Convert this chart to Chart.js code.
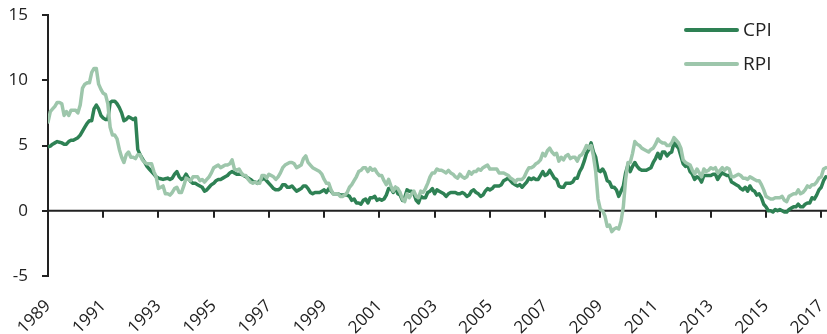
<!DOCTYPE html>
<html>
<head>
<meta charset="utf-8">
<script src="https://cdn.jsdelivr.net/npm/chart.js@4.4.0/dist/chart.umd.min.js"></script>
<style>
  html, body { margin: 0; padding: 0; background: #fff; }
</style>
</head>
<body>
<canvas id="inflChart" width="827" height="334"></canvas>
<script>
// monthly series, Jan 1989 onwards (annual % change)
const startYear = 1989;
const tickYears = [1989, 1991, 1993, 1995, 1997, 1999, 2001, 2003, 2005, 2007, 2009, 2011, 2013, 2015, 2017];
const yTicks = [-5, 0, 5, 10, 15];
const seriesNames = ['CPI', 'RPI'];

const cpi = [
  4.9, 4.95, 5.1, 5.2, 5.3, 5.25, 5.2, 5.1, 5.1, 5.3, 5.4, 5.4,      // 1989
  5.5, 5.6, 5.8, 6.1, 6.4, 6.7, 6.9, 6.9, 7.8, 8.1, 7.8, 7.3,        // 1990
  7.1, 7.0, 7.0, 8.3, 8.4, 8.4, 8.2, 7.9, 7.5, 6.9, 7.0, 7.2,        // 1991
  7.1, 7.0, 7.1, 4.7, 4.3, 4.0, 3.7, 3.4, 3.2, 3.0, 2.8, 2.6,        // 1992
  2.5, 2.45, 2.4, 2.45, 2.5, 2.4, 2.5, 2.8, 3.0, 2.6, 2.4, 2.5,      // 1993
  2.8, 2.5, 2.25, 2.1, 2.1, 2.0, 1.9, 1.8, 1.5, 1.6, 1.8, 2.0,       // 1994
  2.1, 2.3, 2.4, 2.4, 2.5, 2.6, 2.7, 2.9, 3.0, 2.9, 2.8, 2.8,        // 1995
  2.8, 2.7, 2.6, 2.5, 2.4, 2.25, 2.2, 2.1, 2.3, 2.4, 2.5, 2.3,       // 1996
  2.1, 1.9, 1.7, 1.6, 1.6, 1.7, 2.0, 2.0, 1.8, 1.8, 1.9, 1.7,        // 1997
  1.5, 1.6, 1.7, 1.9, 1.9, 1.7, 1.4, 1.3, 1.4, 1.4, 1.4, 1.5,        // 1998
  1.6, 1.4, 1.7, 1.5, 1.3, 1.3, 1.3, 1.2, 1.2, 1.2, 1.2, 1.1,        // 1999
  0.8, 0.9, 0.6, 0.6, 0.5, 0.8, 0.9, 0.6, 1.0, 1.0, 1.1, 0.8,        // 2000
  0.9, 0.8, 0.9, 1.2, 1.7, 1.7, 1.4, 1.8, 1.3, 1.2, 0.8, 1.0,        // 2001
  1.6, 1.5, 1.5, 1.3, 0.8, 0.6, 1.1, 1.0, 1.0, 1.4, 1.5, 1.7,        // 2002
  1.3, 1.6, 1.5, 1.4, 1.3, 1.1, 1.3, 1.4, 1.4, 1.4, 1.3, 1.3,        // 2003
  1.4, 1.3, 1.1, 1.2, 1.5, 1.6, 1.4, 1.3, 1.1, 1.2, 1.5, 1.7,        // 2004
  1.6, 1.7, 1.9, 1.9, 1.9, 2.0, 2.3, 2.4, 2.5, 2.3, 2.1, 2.0,        // 2005
  1.9, 2.0, 1.8, 2.0, 2.2, 2.5, 2.4, 2.5, 2.4, 2.4, 2.7, 3.0,        // 2006
  2.7, 2.8, 3.1, 2.8, 2.5, 2.4, 1.9, 1.8, 1.8, 2.1, 2.1, 2.1,        // 2007
  2.2, 2.5, 2.5, 3.0, 3.3, 3.8, 4.4, 4.7, 5.2, 4.5, 4.1, 3.1,        // 2008
  3.0, 3.2, 2.9, 2.3, 2.2, 1.8, 1.8, 1.6, 1.1, 1.5, 1.9, 2.9,        // 2009
  3.5, 3.0, 3.4, 3.7, 3.4, 3.2, 3.1, 3.1, 3.1, 3.2, 3.3, 3.7,        // 2010
  4.0, 4.4, 4.0, 4.5, 4.5, 4.2, 4.4, 4.5, 5.2, 5.0, 4.8, 4.2,        // 2011
  3.6, 3.4, 3.5, 3.0, 2.8, 2.4, 2.6, 2.5, 2.2, 2.7, 2.7, 2.7,        // 2012
  2.7, 2.8, 2.8, 2.4, 2.7, 2.9, 2.8, 2.7, 2.7, 2.2, 2.1, 2.0,        // 2013
  1.9, 1.7, 1.6, 1.8, 1.5, 1.9, 1.6, 1.5, 1.2, 1.3, 1.0, 0.5,        // 2014
  0.3, 0.0, 0.0, -0.1, 0.1, 0.0, 0.1, 0.0, -0.1, -0.1, 0.1, 0.2,     // 2015
  0.3, 0.3, 0.5, 0.3, 0.3, 0.5, 0.6, 0.6, 1.0, 0.9, 1.2, 1.6,        // 2016
  1.8, 2.3, 2.6                                                     // 2017
];

const rpi = [
  6.8, 7.6, 7.8, 8.0, 8.3, 8.3, 8.2, 7.3, 7.6, 7.3, 7.7, 7.7,        // 1989
  7.7, 7.5, 8.1, 9.4, 9.7, 9.8, 9.8, 10.6, 10.9, 10.9, 9.7, 9.3,     // 1990
  9.0, 8.9, 8.2, 6.4, 5.8, 5.8, 5.5, 4.7, 4.1, 3.7, 4.3, 4.5,        // 1991
  4.1, 4.1, 4.0, 4.3, 4.3, 3.9, 3.7, 3.6, 3.6, 3.6, 3.0, 2.6,        // 1992
  1.7, 1.8, 1.9, 1.3, 1.3, 1.2, 1.4, 1.7, 1.8, 1.4, 1.4, 1.9,        // 1993
  2.5, 2.4, 2.3, 2.6, 2.6, 2.6, 2.3, 2.4, 2.2, 2.4, 2.6, 2.9,        // 1994
  3.3, 3.4, 3.5, 3.3, 3.4, 3.5, 3.5, 3.6, 3.9, 3.2, 3.1, 3.2,        // 1995
  2.9, 2.7, 2.7, 2.4, 2.2, 2.1, 2.2, 2.1, 2.1, 2.7, 2.7, 2.5,        // 1996
  2.8, 2.7, 2.6, 2.4, 2.6, 2.9, 3.3, 3.5, 3.6, 3.7, 3.7, 3.6,        // 1997
  3.3, 3.4, 3.5, 4.0, 4.2, 3.7, 3.5, 3.3, 3.2, 3.1, 3.0, 2.8,        // 1998
  2.4, 2.1, 2.1, 1.6, 1.3, 1.3, 1.3, 1.1, 1.1, 1.2, 1.4, 1.8,        // 1999
  2.0, 2.3, 2.6, 3.0, 3.1, 3.3, 3.3, 3.0, 3.3, 3.1, 3.2, 2.9,        // 2000
  2.7, 2.7, 2.3, 2.0, 2.4, 1.9, 1.5, 1.8, 1.7, 1.4, 0.9, 0.7,        // 2001
  1.3, 1.0, 1.3, 1.5, 1.1, 1.0, 1.5, 1.4, 1.7, 2.1, 2.6, 2.9,        // 2002
  2.9, 3.2, 3.1, 3.1, 3.0, 2.9, 3.1, 2.9, 2.8, 2.6, 2.5, 2.8,        // 2003
  2.6, 2.5, 2.6, 3.0, 2.8, 3.0, 3.0, 3.2, 3.1, 3.3, 3.4, 3.5,        // 2004
  3.2, 3.2, 3.2, 3.2, 2.9, 2.9, 2.9, 2.8, 2.7, 2.5, 2.4, 2.2,        // 2005
  2.4, 2.4, 2.4, 2.6, 3.0, 3.3, 3.3, 3.4, 3.6, 3.7, 3.9, 4.4,        // 2006
  4.2, 4.6, 4.8, 4.5, 4.3, 4.4, 3.8, 4.1, 3.9, 4.2, 4.3, 4.0,        // 2007
  4.1, 4.1, 3.8, 4.2, 4.3, 4.6, 5.0, 4.8, 5.0, 4.2, 3.0, 0.9,        // 2008
  0.1, 0.0, -0.4, -1.2, -1.1, -1.6, -1.4, -1.3, -1.4, -0.8, 0.3, 2.4, // 2009
  3.7, 3.7, 4.4, 5.3, 5.1, 5.0, 4.8, 4.7, 4.6, 4.5, 4.7, 4.8,        // 2010
  5.1, 5.5, 5.3, 5.2, 5.2, 5.0, 5.0, 5.2, 5.6, 5.4, 5.2, 4.8,        // 2011
  3.9, 3.7, 3.6, 3.5, 3.1, 2.8, 3.2, 2.9, 2.6, 3.2, 3.0, 3.1,        // 2012
  3.3, 3.2, 3.3, 2.9, 3.1, 3.3, 3.1, 3.3, 3.2, 2.6, 2.6, 2.7,        // 2013
  2.8, 2.7, 2.5, 2.5, 2.4, 2.6, 2.5, 2.4, 2.3, 2.3, 2.0, 1.6,        // 2014
  1.1, 1.0, 0.9, 0.9, 1.0, 1.0, 1.0, 1.1, 0.8, 0.7, 1.1, 1.2,        // 2015
  1.3, 1.3, 1.6, 1.3, 1.4, 1.6, 1.9, 1.8, 2.0, 2.0, 2.2, 2.5,        // 2016
  2.6, 3.2, 3.3                                                     // 2017
];

const FONT = '"Open Sans", "DejaVu Sans", sans-serif';
const INK = '#222';

const toPoints = arr => arr.map((v, i) => ({ x: startYear + i / 12, y: v }));

// zero line with the year ticks hanging below it
const zeroAxis = {
  id: 'zeroAxis',
  beforeDatasetsDraw(chart) {
    const { ctx, scales: { x, y } } = chart;
    const y0 = y.getPixelForValue(0);
    ctx.save();
    ctx.strokeStyle = INK;
    ctx.lineWidth = 2;
    ctx.beginPath();
    ctx.moveTo(x.left, y0);
    ctx.lineTo(x.right, y0);
    tickYears.forEach(t => {
      const px = Math.round(x.getPixelForValue(t));
      ctx.moveTo(px, y0);
      ctx.lineTo(px, y0 + 7);
    });
    ctx.stroke();
    ctx.restore();
  }
};

// legend sits inside the plot, top right
const insideLegend = {
  id: 'insideLegend',
  afterDraw(chart) {
    const ctx = chart.ctx;
    chart.data.datasets.forEach((ds, i) => {
      const yy = 30 + i * 34;
      ctx.save();
      ctx.strokeStyle = ds.borderColor;
      ctx.lineWidth = 4;
      ctx.lineCap = 'round';
      ctx.beginPath();
      ctx.moveTo(686, yy);
      ctx.lineTo(737, yy);
      ctx.stroke();
      ctx.fillStyle = INK;
      ctx.font = '19px ' + FONT;
      ctx.textBaseline = 'middle';
      ctx.fillText(ds.label, 743, yy + 1);
      ctx.restore();
    });
  }
};

new Chart(document.getElementById('inflChart'), {
  type: 'line',
  data: {
    datasets: [
      { label: seriesNames[0], data: toPoints(cpi), borderColor: '#2e8154', borderWidth: 3.5, order: 1 },
      { label: seriesNames[1], data: toPoints(rpi), borderColor: '#9dc6ab', borderWidth: 3.5, order: 0 }
    ]
  },
  options: {
    responsive: false,
    animation: false,
    devicePixelRatio: 1,
    elements: {
      point: { radius: 0 },
      line: { tension: 0, borderJoinStyle: 'round', borderCapStyle: 'round' }
    },
    layout: { padding: { top: 15, right: 0, bottom: 0, left: 0 } },
    plugins: {
      legend: { display: false },
      tooltip: { enabled: false }
    },
    scales: {
      x: {
        type: 'linear',
        min: startYear,
        max: startYear + 338.5 / 12,
        afterBuildTicks: s => { s.ticks = tickYears.map(v => ({ value: v })); },
        afterFit: s => {
          s.height = 58;
          s.paddingLeft = 0;
          s.paddingRight = 0;
        },
        grid: { display: false },
        border: { display: false },
        ticks: {
          autoSkip: false,
          minRotation: 45,
          maxRotation: 45,
          padding: 12,
          color: INK,
          font: { family: FONT, size: 17 },
          callback: v => String(v)
        }
      },
      y: {
        min: -5,
        max: 15,
        afterBuildTicks: s => { s.ticks = yTicks.map(v => ({ value: v })); },
        afterFit: s => {
          s.width = 48;
          s.paddingTop = 0;
          s.paddingBottom = 0;
        },
        grid: { drawOnChartArea: false, drawTicks: true, tickLength: 6, color: INK, lineWidth: 2 },
        border: { color: INK, width: 2 },
        ticks: {
          padding: 14,
          color: INK,
          font: { family: FONT, size: 17 }
        }
      }
    }
  },
  plugins: [zeroAxis, insideLegend]
});
</script>
</body>
</html>
